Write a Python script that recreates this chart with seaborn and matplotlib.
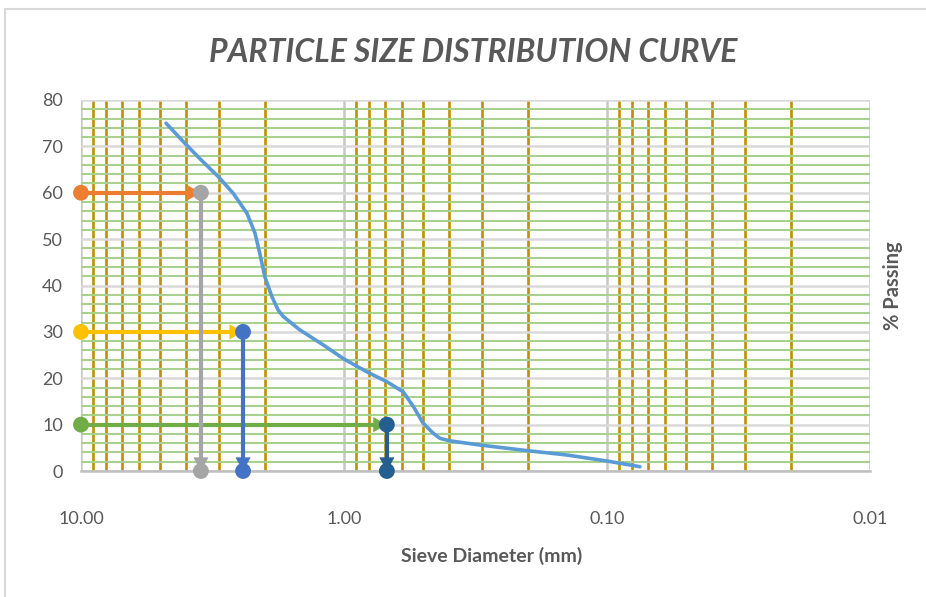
import numpy as np
import pandas as pd
import matplotlib
matplotlib.use("Agg")
import matplotlib.pyplot as plt
from matplotlib.ticker import FixedLocator, LogLocator, MultipleLocator, FuncFormatter
from matplotlib.patches import Rectangle
import seaborn as sns

# ---- data ----
diameter = [4.75, 4.08, 3.54, 3.01, 2.64, 2.34, 2.18, 2.09, 2.0, 1.88, 1.78, 1.70, 1.47, 1.20,
            1.01, 0.82, 0.69, 0.596, 0.545, 0.50, 0.457, 0.432, 0.395, 0.304, 0.202, 0.142, 0.1, 0.075]
passing = [75.0, 71.0, 67.4, 63.5, 59.9, 55.6, 51.3, 46.9, 41.9, 37.6, 34.7, 33.3, 30.4, 27.2,
           24.3, 21.4, 19.3, 17.1, 13.9, 10.3, 8.1, 7.05, 6.5, 5.6, 4.4, 3.45, 2.15, 0.93]

x_start = 10.0
d60, d30, d10 = 3.5, 2.42, 0.687
p_levels = [60, 30, 10]
horiz_colors = ["#ED7D31", "#FFC000", "#70AD47"]
vert_colors = ["#A5A5A5", "#4472C4", "#255E91"]
x_ticks = [10, 1, 0.1, 0.01]
y_ticks = [0, 10, 20, 30, 40, 50, 60, 70, 80]

sns.set_theme(style="white")
plt.rcParams["font.family"] = ["Lato", "DejaVu Sans"]

fig = plt.figure(figsize=(9.26, 5.97), dpi=100)
W, H = 926, 597
ax = fig.add_axes([81 / W, (H - 471) / H, (870 - 81) / W, (471 - 100) / H])

ax.set_xscale("log")
ax.set_xlim(10, 0.01)
ax.set_ylim(0, 80)

ax.xaxis.set_major_locator(FixedLocator(x_ticks))
ax.xaxis.set_minor_locator(LogLocator(base=10, subs=np.arange(2, 10)))
ax.xaxis.set_major_formatter(FuncFormatter(lambda v, p: f"{v:.2f}"))
ax.xaxis.set_minor_formatter(FuncFormatter(lambda v, p: ""))
ax.yaxis.set_major_locator(FixedLocator(y_ticks))
ax.yaxis.set_minor_locator(MultipleLocator(2))

ax.grid(False)
ax.set_axisbelow(True)
ax.grid(which="minor", axis="y", color="#A9D18E", lw=1.5, zorder=0)
ax.grid(which="major", axis="y", color="#D9D9D9", lw=1.8, zorder=0)
ax.grid(which="minor", axis="x", color="#BF9000", lw=1.9, zorder=0)
ax.grid(which="major", axis="x", color="#C8C8C8", lw=1.8, zorder=0)

for s in ["top", "left", "right"]:
    ax.spines[s].set_visible(False)
ax.spines["bottom"].set_color("#BFBFBF")
ax.spines["bottom"].set_linewidth(1.8)
ax.spines["bottom"].set_zorder(1)

ax.tick_params(which="both", length=0)
ax.tick_params(axis="x", which="major", pad=29, labelsize=13, labelcolor="#595959")
ax.tick_params(axis="y", which="major", pad=13, labelsize=13, labelcolor="#595959")

# curve
curve = pd.DataFrame({"d": diameter, "p": passing})
sns.lineplot(data=curve, x="d", y="p", ax=ax, color="#5B9BD5", lw=2.6, sort=False,
             estimator=None, zorder=3)

# construction lines
d_vals = [d60, d30, d10]
arrow_style = "-|>,head_length=0.75,head_width=0.42"
for lvl, dv, hc, vc in zip(p_levels, d_vals, horiz_colors, vert_colors):
    hdf = pd.DataFrame({"x": [x_start, dv], "y": [lvl, lvl]})
    vdf = pd.DataFrame({"x": [dv, dv], "y": [lvl, 0]})
    sns.lineplot(data=hdf, x="x", y="y", ax=ax, color=hc, lw=3.0, sort=False,
                 estimator=None, zorder=4)
    ax.annotate("", xy=(dv, lvl), xytext=(x_start, lvl),
                arrowprops=dict(arrowstyle=arrow_style, color=hc, lw=0.5,
                                shrinkA=0, shrinkB=0), zorder=4)
    sns.lineplot(data=vdf, x="x", y="y", ax=ax, color=vc, lw=3.0, sort=False,
                 estimator=None, zorder=5)
    ax.annotate("", xy=(dv, 0), xytext=(dv, lvl),
                arrowprops=dict(arrowstyle=arrow_style, color=vc, lw=0.5,
                                shrinkA=0, shrinkB=0), zorder=5)
    sns.scatterplot(x=[x_start], y=[lvl], ax=ax, color=hc, s=130, edgecolor="none",
                    zorder=6, clip_on=False)
    sns.scatterplot(x=[dv, dv], y=[lvl, 0], ax=ax, color=vc, s=130, edgecolor="none",
                    zorder=7, clip_on=False)

ax.set_xlabel("")
ax.set_ylabel("")

fig.text(473 / W, 1 - 52 / H, "PARTICLE SIZE DISTRIBUTION CURVE", ha="center", va="center",
         fontsize=23, fontweight="bold", fontstyle="italic", color="#595959")
fig.text(492 / W, 1 - 556 / H, "Sieve Diameter (mm)", ha="center", va="center",
         fontsize=14, fontweight="bold", color="#595959")
fig.text(893 / W, 1 - 286 / H, "% Passing", ha="center", va="center", rotation=90,
         fontsize=14.5, fontweight="bold", color="#595959")

fig.patches.append(Rectangle((5 / W, -0.05), 1.1, 1 - 9 / H + 0.05, transform=fig.transFigure,
                             fill=False, edgecolor="#D9D9D9", lw=1.5, zorder=0))

fig.savefig("out.png", dpi=100)
